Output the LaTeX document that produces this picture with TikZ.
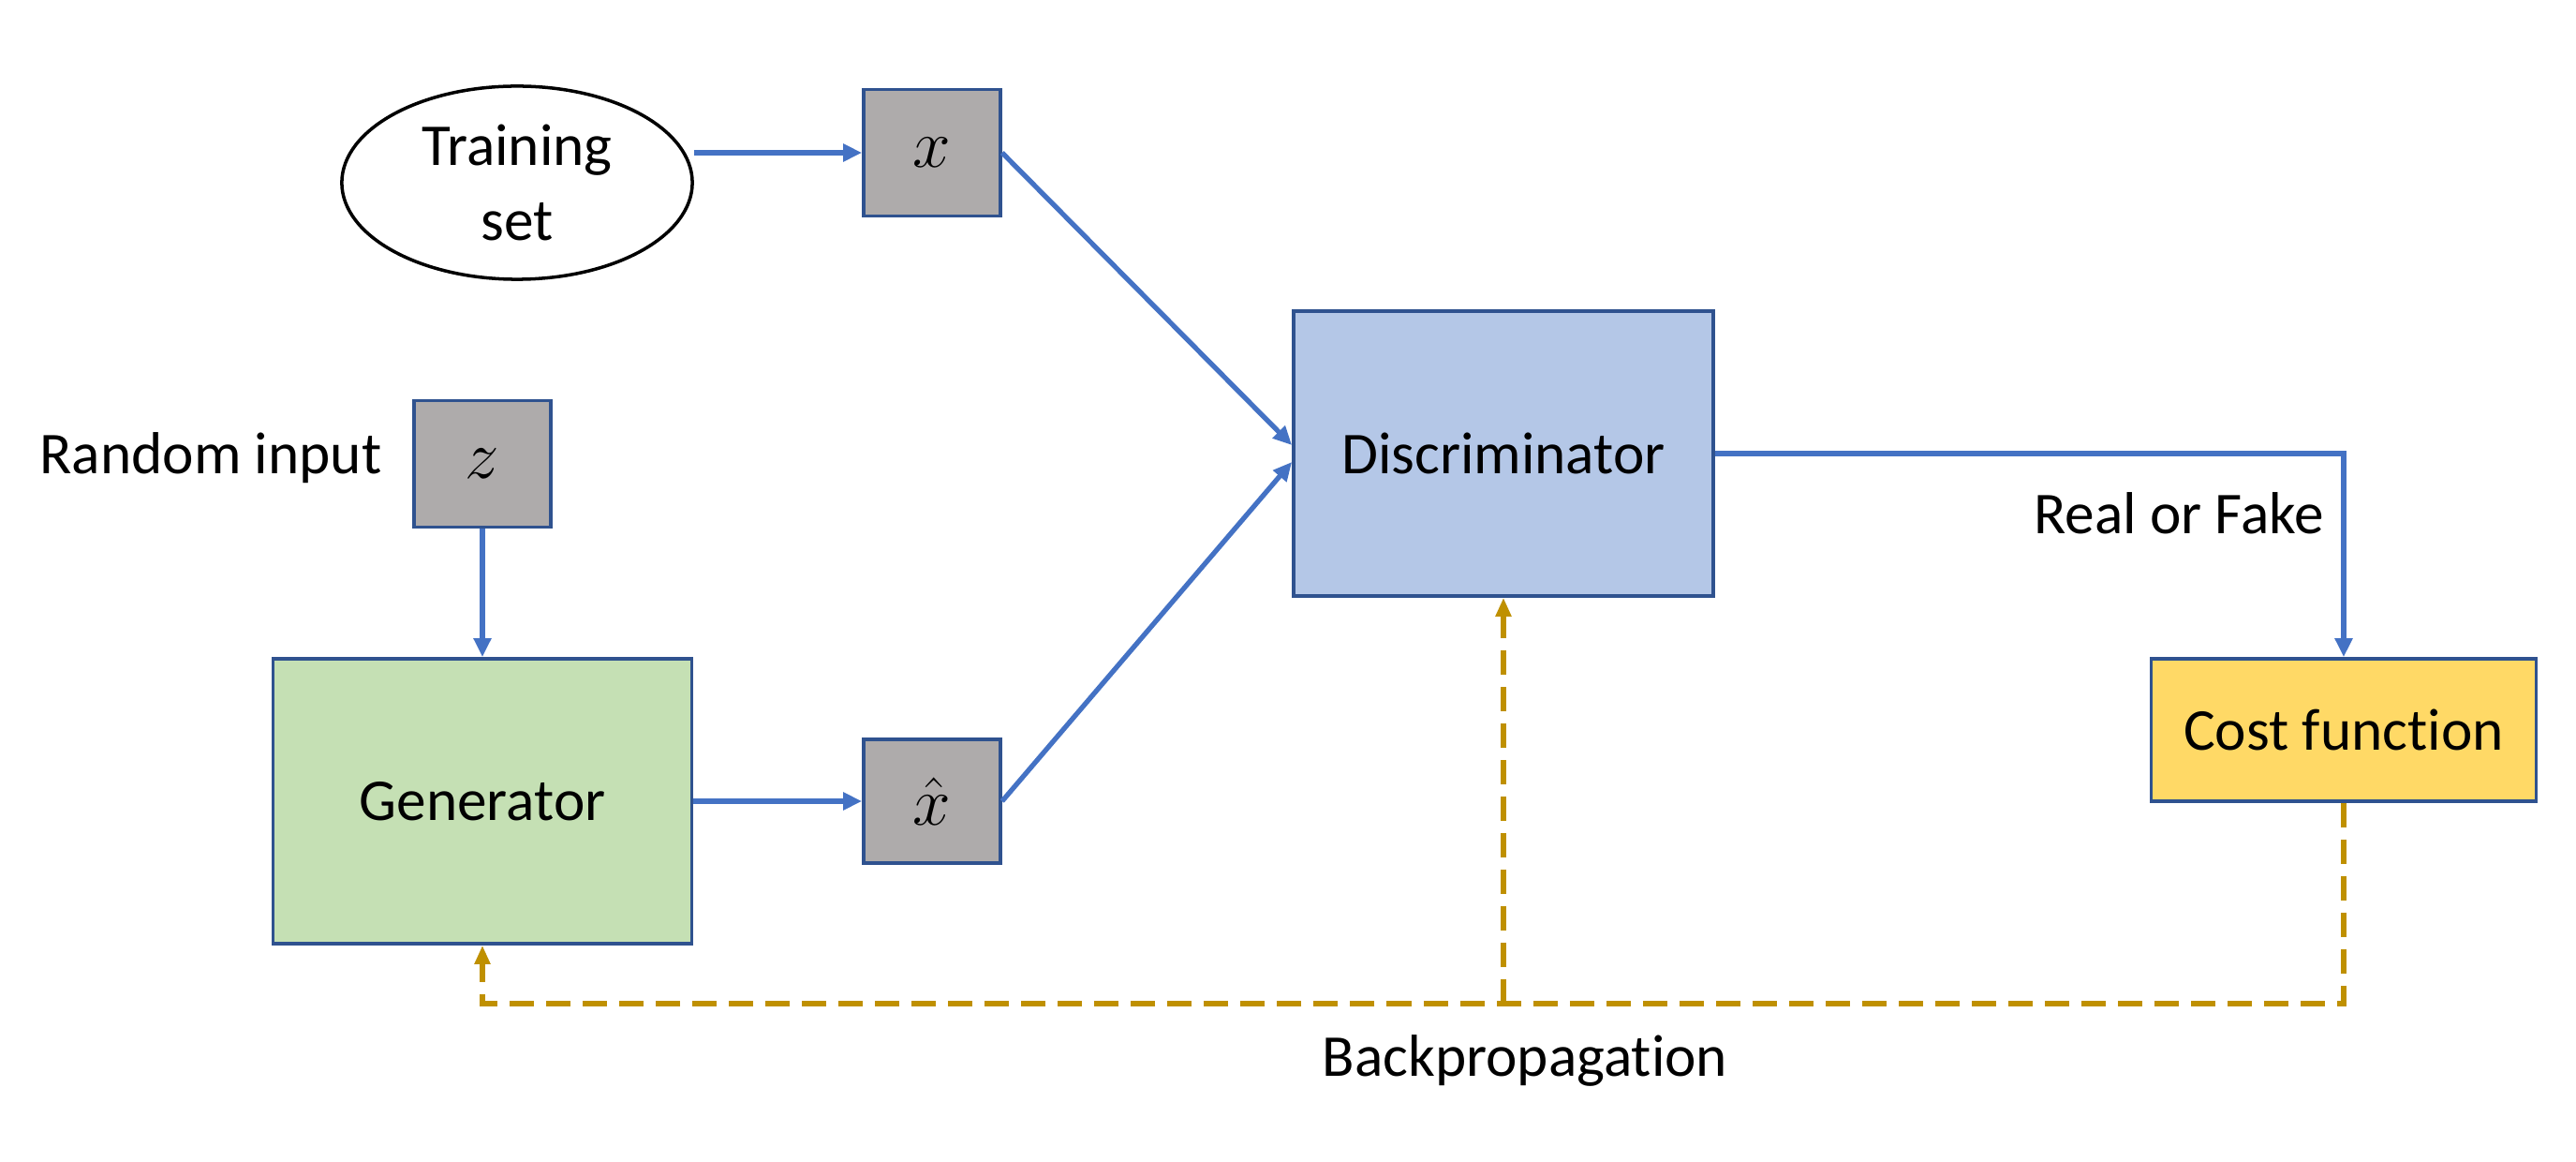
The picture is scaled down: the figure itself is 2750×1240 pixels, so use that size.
\documentclass[tikz,border=0pt]{standalone}
\usepackage{fontspec}
\setmainfont{Carlito}[Ligatures=NoCommon]
\usetikzlibrary{shapes.geometric,arrows.meta,calc}
\definecolor{lineblue}{HTML}{4472C4}
\definecolor{edgeblue}{HTML}{2F528F}
\definecolor{boxgray}{HTML}{AEABAB}
\definecolor{gengreen}{HTML}{C5E0B4}
\definecolor{discblue}{HTML}{B4C7E7}
\definecolor{costyellow}{HTML}{FFD966}
\definecolor{bpgold}{HTML}{BF9000}
\tikzset{
  every node/.style={font=\fontsize{18}{23}\selectfont},
  smallbox/.style={draw=edgeblue, line width=1pt, fill=boxgray, minimum width=1.46cm, minimum height=1.35cm, inner sep=0pt, font=\fontsize{21}{23}\selectfont},
  bigbox/.style={draw=edgeblue, line width=1pt, minimum width=4.47cm, minimum height=3.04cm, inner sep=0pt},
  arr/.style={draw=lineblue, line width=1.5pt, -{Triangle[length=0.2cm,width=0.18cm]}},
  bpline/.style={draw=bpgold, line width=1.6pt, dash pattern=on 0.26cm off 0.13cm, -{Triangle[length=0.2cm,width=0.16cm]}},
}
\begin{document}
\begin{tikzpicture}[x=0.01cm, y=-0.01cm]
\useasboundingbox (0,0) rectangle (2750,1240);
\node[ellipse, draw=black, line width=1pt, minimum width=3.74cm, minimum height=2.06cm, align=center, inner sep=0pt] (train) at (552,195) {Training\\set};
\node[smallbox] (xbox) at (995,163) {$x$};
\node[smallbox] (zbox) at (515,495) {$z$};
\node[bigbox, fill=gengreen] (gen) at (515,855) {Generator};
\node[smallbox, minimum height=1.32cm] (xhat) at (995,855) {$\hat{x}$};
\node[bigbox, fill=discblue, minimum width=4.48cm] (disc) at (1605,484) {Discriminator};
\node[draw=edgeblue, line width=1pt, fill=costyellow, minimum width=4.11cm, minimum height=1.52cm, inner sep=0pt] (cost) at (2502,779) {Cost function};
\node (rin) at (225,489) {Random input};
\node (rof) at (2326,548) {Real or Fake};
\node (bp) at (1628,1132) {Backpropagation};
\coordinate (bpy) at (0,1071);
\draw[arr] (train.east |- xbox.west) -- (xbox.west);
\draw[arr] (zbox.south) -- (gen.north);
\draw[arr] (gen.east) -- (xhat.west);
\draw[arr] (xbox.east) -- ($(disc.west)+(0,-9)$);
\draw[arr] (xhat.east) -- ($(disc.west)+(0,9)$);
\draw[arr] (disc.east) -| (cost.north);
\draw[bpline] (cost.south) |- (gen.south |- bpy) -- (gen.south);
\draw[bpline] (disc.south |- bpy) -- (disc.south);
\end{tikzpicture}
\end{document}
